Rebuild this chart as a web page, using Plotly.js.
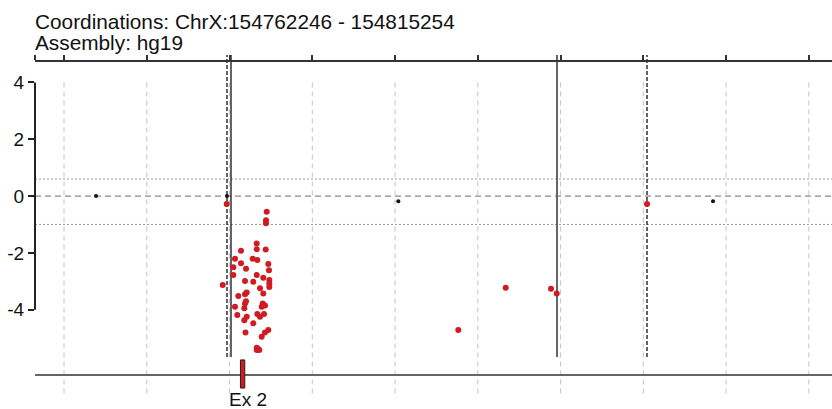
<!DOCTYPE html>
<html>
<head>
<meta charset="utf-8">
<script src="https://cdn.plot.ly/plotly-3.0.1.min.js"></script>
<style>html,body{margin:0;padding:0;background:#fff;}#chart{width:832px;height:409px;}</style>
</head>
<body>
<div id="chart"></div>
<script>
// ---- data ----
const titleLine1 = "Coordinations: ChrX:154762246 - 154815254";
const titleLine2 = "Assembly: hg19";
const xRange = [154762246, 154810400];
const gridTicks = [154764000,154769000,154774000,154779000,154784000,154789000,154794000,154799000,154804000,154809000];
const yTickVals = [4, 2, 0, -2, -4];
const yTickText = ["4", "2", "0", "-2", "-4"];

const blackX = [154765932, 154773847, 154784197, 154803211];
const blackY = [0, 0, -0.18, -0.18];

const redX = [154773829,154776245,154776203,154776203,154775641,154775641,154774693,154776185,154774330,154775399,
  154775677,154774693,154776342,154774227,154774995,154776384,154774227,154775641,154776040,154774934,
  154775436,154776402,154773587,154776402,154776402,154775841,154774934,154775037,154774529,154776040,
  154774934,154774995,154774892,154774330,154776004,154776143,154775943,154774469,154774892,154775037,
  154775677,154775841,154776082,154775436,154774964,154776342,154776143,154775943,154775641,154775641,
  154775798,154775720,
  154799223,154787822,154790686,154793423,154793767];
const redY = [-0.28,-0.55,-0.85,-0.96,-1.67,-1.87,-1.93,-1.88,-2.21,-2.21,
  -2.25,-2.37,-2.39,-2.51,-2.56,-2.61,-2.78,-2.78,-2.88,-2.99,
  -3.02,-2.96,-3.13,-3.08,-3.20,-3.25,-3.46,-3.40,-3.52,-3.43,
  -3.78,-3.70,-3.95,-3.90,-3.78,-3.85,-3.90,-4.19,-4.37,-4.25,
  -4.15,-4.25,-4.15,-4.48,-4.80,-4.72,-4.80,-4.95,-5.34,-5.42,
  -5.42,-5.38,
  -0.28,-4.72,-3.23,-3.26,-3.43];

const dashedMarkers = [154773847, 154799223];
const solidMarkers = [154774088];
const solidGrayMarkers = [154793785];
const hLineDotted = [0.6, -1.0];
const hLineDashed = [0];
const exonName = "Ex 2";
const exonStart = 154774660, exonEnd = 154774920;
const exonY = [-6.76, -5.77];
const trackY = -6.30;
const yRange = [-7.04, 4.72];

// ---- shapes ----
const shapes = [];
gridTicks.forEach(g => shapes.push({type:'line', xref:'x', yref:'y', x0:g, x1:g, y0:4, y1:yRange[0],
  line:{color:'#c4c4c4', width:1, dash:'5px,4px'}, layer:'below'}));
hLineDotted.forEach(v => shapes.push({type:'line', xref:'paper', yref:'y', x0:0, x1:1, y0:v, y1:v,
  line:{color:'#9a9a9a', width:1, dash:'2px,2px'}, layer:'below'}));
hLineDashed.forEach(v => shapes.push({type:'line', xref:'paper', yref:'y', x0:0, x1:1, y0:v, y1:v,
  line:{color:'#8a8a8a', width:1.3, dash:'6px,4px'}, layer:'below'}));
// y axis line only between -4 and 4
shapes.push({type:'line', xref:'paper', yref:'y', x0:0, x1:0, y0:yTickVals[yTickVals.length-1], y1:yTickVals[0],
  line:{color:'#222', width:2}});
// track line
shapes.push({type:'line', xref:'paper', yref:'y', x0:0, x1:1, y0:trackY, y1:trackY,
  line:{color:'#666', width:2}});
dashedMarkers.forEach(g => shapes.push({type:'line', xref:'x', yref:'paper', x0:g, x1:g, y0:0.117, y1:1.021,
  line:{color:'#111', width:1.3, dash:'4px,2px'}, layer:'below'}));
solidMarkers.forEach(g => shapes.push({type:'line', xref:'x', yref:'paper', x0:g, x1:g, y0:0.117, y1:1.021,
  line:{color:'#111', width:1.3}, layer:'below'}));
solidGrayMarkers.forEach(g => shapes.push({type:'line', xref:'x', yref:'paper', x0:g, x1:g, y0:0.117, y1:1.021,
  line:{color:'#666', width:2}, layer:'below'}));
shapes.push({type:'rect', xref:'x', yref:'y', x0:exonStart, x1:exonEnd, y0:exonY[0], y1:exonY[1],
  fillcolor:'#d41920', line:{color:'#222', width:1}});

const FONT = 'Liberation Sans, Arial, sans-serif';

const traces = [
  {type:'scatter', mode:'markers', x:redX, y:redY, cliponaxis:false,
   marker:{color:'#cf1b21', size:6, line:{width:0}}, hoverinfo:'skip'},
  {type:'scatter', mode:'markers', x:blackX, y:blackY,
   marker:{color:'#111', size:4, line:{width:0}}, hoverinfo:'skip'}
];

const layout = {
  width:832, height:409,
  margin:{l:35, r:0, t:62, b:13},
  paper_bgcolor:'#fff', plot_bgcolor:'#fff',
  showlegend:false,
  font:{family:FONT, color:'#111'},
  xaxis:{range:xRange, side:'top', showline:true, linecolor:'#333', linewidth:2,
    ticks:'outside', tickvals:[xRange[0]].concat(gridTicks), ticklen:5, tickwidth:2, tickcolor:'#333',
    showticklabels:false, showgrid:false, zeroline:false, fixedrange:true},
  yaxis:{range:yRange, showline:false, ticks:'outside', tickvals:yTickVals, ticktext:yTickText,
    ticklen:6, tickwidth:2, tickcolor:'#222', tickfont:{size:19, family:FONT, color:'#111'},
    showgrid:false, zeroline:false, fixedrange:true},
  shapes:shapes,
  annotations:[
    {text:titleLine1, xref:'paper', yref:'paper', x:-0.002, y:(396-8)/334, xanchor:'left', yanchor:'top',
     showarrow:false, font:{size:20.8, family:FONT, color:'#111'}},
    {text:titleLine2, xref:'paper', yref:'paper', x:-0.002, y:(396-29)/334, xanchor:'left', yanchor:'top',
     showarrow:false, font:{size:20.8, family:FONT, color:'#111'}},
    {text:exonName, xref:'x', yref:'paper', x:(exonStart+exonEnd)/2, xshift:5, y:0.027, yanchor:'top', xanchor:'center',
     showarrow:false, font:{size:19, family:FONT, color:'#111'}}
  ]
};

Plotly.newPlot('chart', traces, layout, {staticPlot:true, displayModeBar:false});
</script>
</body>
</html>
